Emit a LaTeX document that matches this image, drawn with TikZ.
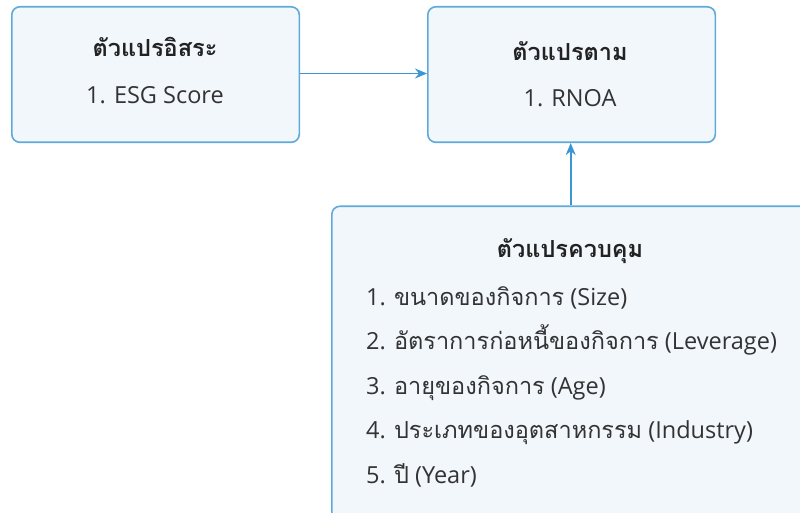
\documentclass[tikz,border=0pt]{standalone}
\usepackage{fontspec}
\setmainfont{Open Sans}
\newfontfamily\thaif[Script=Thai]{Loma}
\usetikzlibrary{arrows.meta}
\definecolor{boxfill}{HTML}{F2F7FC}
\definecolor{boxline}{HTML}{5EABDB}
\definecolor{arrowc}{HTML}{3B97D3}
\definecolor{txt}{HTML}{333333}
\definecolor{ttl}{HTML}{222222}
\tikzset{
  varbox/.style={draw=boxline, fill=boxfill, line width=1.6pt, rounded corners=8pt, inner sep=0pt},
  ttltext/.style={text=ttl, font=\fontsize{23.5}{26}\selectfont\thaif\bfseries, anchor=base, inner sep=0pt},
  itemtext/.style={text=txt, font=\fontsize{23.5}{26}\selectfont, inner sep=0pt},
  conn/.style={draw=arrowc, line width=1.6pt, -{Stealth[length=12pt,width=10pt]}}
}
\begin{document}
\begin{tikzpicture}[x=1pt,y=-1pt]
\useasboundingbox (0,0) rectangle (800,513);
\clip (0,0) rectangle (800,513);
\node[varbox, minimum width=287.5pt, minimum height=135.5pt, anchor=north west] (b1) at (11,6) {};
\node[varbox, minimum width=287.5pt, minimum height=135.5pt, anchor=north west] (b2) at (427,6) {};
\node[varbox, minimum width=520pt, minimum height=340pt, anchor=north west] (b3) at (331,205.5) {};
\node[ttltext] (t1) at (155,57) {ตัวแปรอิสระ};
\node[itemtext, anchor=base] (e1) at (155,104) {1. ESG Score};
\node[ttltext] (t2) at (570,61) {ตัวแปรตาม};
\node[itemtext, anchor=base] (e2) at (570,107) {1. RNOA};
\node[ttltext] (t3) at (570,257) {ตัวแปรควบคุม};
\node[itemtext, anchor=base west] (c1) at (366,305) {1. {\thaif ขนาดของกิจการ} (Size)};
\node[itemtext, anchor=base west] (c2) at (366,349.5) {2. {\thaif อัตราการก่อหนี้ของกิจการ} (Leverage)};
\node[itemtext, anchor=base west] (c3) at (366,394) {3. {\thaif อายุของกิจการ} (Age)};
\node[itemtext, anchor=base west] (c4) at (366,438.5) {4. {\thaif ประเภทของอุตสาหกรรม} (Industry)};
\node[itemtext, anchor=base west] (c5) at (366,483) {5. {\thaif ปี} (Year)};
\draw[conn] (b1.east |- 0,73.5) -- (b2.west |- 0,73.5);
\draw[conn] (570.7,0 |- b3.north) -- (570.7,0 |- b2.south);
\end{tikzpicture}
\end{document}
